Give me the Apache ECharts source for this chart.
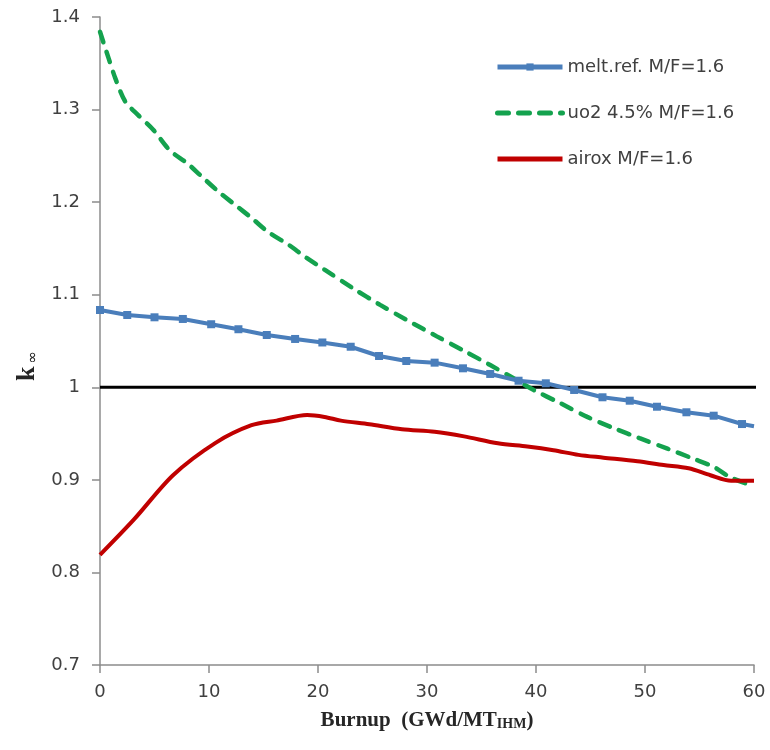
<!DOCTYPE html>
<html><head><meta charset="utf-8">
<script src="https://cdn.jsdelivr.net/npm/echarts@6/dist/echarts.min.js"></script>
<style>html,body{margin:0;padding:0;background:#fff}#c{width:770px;height:750px}</style>
</head><body><div id="c"></div>
<script>
// ---- data ----
const seriesNames = ['melt.ref. M/F=1.6', 'uo2 4.5% M/F=1.6', 'airox M/F=1.6'];
const xTickLabels = ['0', '10', '20', '30', '40', '50', '60'];
const yTickLabels = ['0.7', '0.8', '0.9', '1', '1.1', '1.2', '1.3', '1.4'];

const meltX = [0, 2.5, 5.0, 7.6, 10.2, 12.7, 15.3, 17.9, 20.4, 23.0, 25.6, 28.1, 30.7, 33.3, 35.8, 38.4, 40.9, 43.5, 46.1, 48.6, 51.1, 53.8, 56.3, 58.9, 60];
const meltY = [1.0835, 1.0781, 1.0756, 1.0738, 1.0681, 1.0627, 1.0565, 1.0522, 1.0484, 1.0438, 1.0338, 1.0284, 1.0266, 1.0205, 1.0144, 1.0071, 1.0043, 0.9971, 0.9892, 0.9855, 0.9790, 0.9730, 0.9693, 0.9603, 0.958];

const uo2X = [0, 0.8, 1.4, 2.3, 3.5, 4.9, 6.4, 8.0, 9.3, 10.9, 12.4, 13.9, 15.4, 17.3, 18.8, 20.6, 23.2, 25.7, 28.1, 30.9, 33.3, 35.8, 37.9, 39.8, 42.2, 44.7, 47.1, 49.5, 52.0, 54.4, 56.3, 57.8, 60];
const uo2Y = [1.384, 1.355, 1.334, 1.309, 1.294, 1.278, 1.256, 1.242, 1.228, 1.211, 1.197, 1.183, 1.168, 1.154, 1.141, 1.127, 1.107, 1.089, 1.073, 1.055, 1.040, 1.024, 1.010, 0.997, 0.983, 0.968, 0.956, 0.945, 0.934, 0.923, 0.914, 0.903, 0.893];

const airoxX = [0, 3.1, 6.7, 10.6, 13.9, 16.2, 19.0, 20.6, 22.1, 24.7, 27.7, 30.7, 33.4, 36.5, 39.2, 41.6, 43.9, 46.2, 49.3, 51.7, 54.0, 56.0, 57.9, 60];
const airoxY = [0.819, 0.857, 0.905, 0.940, 0.959, 0.964, 0.970, 0.968, 0.964, 0.960, 0.9546, 0.952, 0.947, 0.9395, 0.936, 0.932, 0.927, 0.924, 0.920, 0.916, 0.9125, 0.905, 0.899, 0.899];

const refX = [0, 61.3];
const refY = [1, 1];

// ---- build ----
const pair = (xs, ys) => xs.map((x, i) => [x, ys[i]]);
const meltData = meltX.map((x, i) => i === meltX.length - 1 ? { value: [x, meltY[i]], symbol: 'none' } : [x, meltY[i]]);

const chart = echarts.init(document.getElementById('c'));
const labelFont = { fontFamily: 'DejaVu Sans', fontSize: 18, color: '#404040' };
chart.setOption({
  animation: false,
  backgroundColor: '#fff',
  grid: { left: 100, right: 16, top: 17, bottom: 85 },
  legend: {
    data: [
      { name: seriesNames[0] },
      { name: seriesNames[1], itemStyle: { opacity: 0 } },
      { name: seriesNames[2], itemStyle: { opacity: 0 } }
    ],
    orient: 'vertical', left: 490, top: 53,
    itemWidth: 65, itemHeight: 9, itemGap: 28,
    lineStyle: { width: 5 },
    textStyle: labelFont
  },
  xAxis: {
    type: 'value', min: 0, max: 60, interval: 10,
    axisLine: { lineStyle: { color: '#8c8c8c', width: 1.5 } },
    axisTick: { show: true, inside: false, length: 8, lineStyle: { color: '#8c8c8c', width: 1.5 } },
    axisLabel: Object.assign({ margin: 18, formatter: v => xTickLabels[Math.round(v / 10)] }, labelFont),
    splitLine: { show: false },
    name: '{b|Burnup  (GWd/MT}{s|IHM}{b|)}',
    nameLocation: 'middle', nameGap: 42,
    nameTextStyle: {
      rich: {
        b: { fontFamily: 'Liberation Serif', fontWeight: 'bold', fontSize: 21, color: '#262626', verticalAlign: 'bottom', lineHeight: 24 },
        s: { fontFamily: 'Liberation Serif', fontWeight: 'bold', fontSize: 14, color: '#262626', verticalAlign: 'bottom', lineHeight: 19 }
      }
    }
  },
  yAxis: {
    type: 'value', min: 0.7, max: 1.4, interval: 0.1,
    axisLine: { show: true, lineStyle: { color: '#8c8c8c', width: 1.5 } },
    axisTick: { show: true, inside: false, length: 8, lineStyle: { color: '#8c8c8c', width: 1.5 } },
    axisLabel: Object.assign({ margin: 20, formatter: v => yTickLabels[Math.round((v - 0.7) * 10)] }, labelFont),
    splitLine: { show: false },
    name: '{k|k}{i|∞}',
    nameLocation: 'middle', nameRotate: 90, nameGap: 57,
    nameTextStyle: {
      padding: [0, 50, 0, 0],
      rich: {
        k: { fontFamily: 'Liberation Serif', fontWeight: 'bold', fontSize: 26, color: '#262626', verticalAlign: 'bottom' },
        i: { fontFamily: 'DejaVu Sans', fontSize: 15, color: '#262626', verticalAlign: 'bottom', padding: [0, 0, 0, 3] }
      }
    }
  },
  series: [
    {
      name: 'ref', type: 'line', data: pair(refX, refY), symbol: 'none', clip: false, z: 1,
      lineStyle: { color: '#000', width: 3 }, silent: true
    },
    {
      name: seriesNames[0], type: 'line', data: meltData, z: 4,
      symbol: 'rect', symbolSize: 8, showAllSymbol: true,
      itemStyle: { color: '#4A7EBB' },
      lineStyle: { color: '#4A7EBB', width: 4 }
    },
    {
      name: seriesNames[1], type: 'line', data: pair(uo2X, uo2Y), z: 3,
      symbol: 'none', smooth: 0.3,
      itemStyle: { color: '#14A24E' },
      lineStyle: { color: '#14A24E', width: 4.5, type: [11, 10], cap: 'round' }
    },
    {
      name: seriesNames[2], type: 'line', data: pair(airoxX, airoxY), z: 3,
      symbol: 'none', smooth: 0.3,
      itemStyle: { color: '#C00000' },
      lineStyle: { color: '#C00000', width: 4 }
    }
  ]
});
</script>
</body></html>
